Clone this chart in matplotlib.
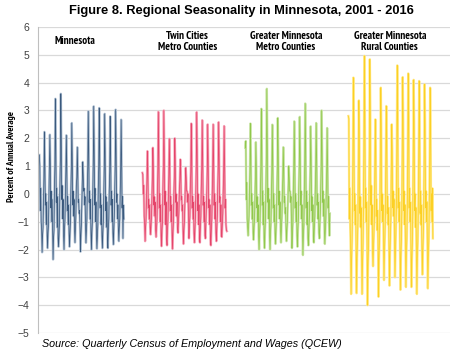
import numpy as np
import matplotlib
matplotlib.use("Agg")
import matplotlib.pyplot as plt
from matplotlib import font_manager as fm

# monthly values, Jul 2001 - Dec 2016 (percent of annual average)
minnesota = [
    1.4, 1.0, -0.6, 0.2, -1.0, -1.3,
    -2.1, -1.5, -1.2, -0.3, 0.6, 2.23, 1.2, -0.4, 0.0, -1.1, -0.3, -1.5,
    -1.95, -1.4, -1.1, -0.1, 0.7, 2.13, 1.1, -0.5, 0.1, -1.0, -0.2, -1.4,
    -2.36, -1.6, -1.3, 0.2, 1.0, 3.42, 1.8, -0.3, 0.2, -1.2, -0.1, -1.6,
    -1.9, -1.5, -1.0, 0.3, 1.2, 3.6, 2.0, -0.2, 0.3, -0.9, -0.2, -1.5,
    -2.0, -1.3, -0.9, 0.0, 0.8, 2.11, 1.1, -0.6, -0.1, -1.1, -0.4, -1.4,
    -1.9, -1.4, -1.0, 0.1, 0.9, 2.55, 1.4, -0.4, 0.1, -0.8, -0.2, -1.3,
    -1.75, -1.2, -0.7, 0.3, 0.6, 1.68, 0.9, -0.3, -0.2, -0.7, -0.6, -1.2,
    -2.08, -1.5, -1.1, -0.3, 0.4, 1.15, 0.7, 0.1, 0.2, -0.4, -0.1, -1.1,
    -1.76, -1.3, -0.9, 0.2, 1.0, 2.97, 1.6, -0.3, 0.1, -0.9, -0.2, -1.4,
    -2.0, -1.4, -1.0, 0.1, 1.1, 3.15, 1.7, -0.4, 0.2, -1.0, -0.3, -1.5,
    -1.97, -1.5, -1.1, 0.2, 1.0, 3.09, 1.7, -0.5, 0.0, -1.1, -0.4, -1.5,
    -1.95, -1.4, -1.0, 0.0, 0.9, 2.88, 1.5, -0.6, -0.1, -1.2, -0.3, -1.6,
    -1.95, -1.3, -0.9, 0.1, 0.8, 2.79, 1.5, -0.4, 0.1, -1.0, -0.2, -1.4,
    -1.82, -1.3, -0.8, 0.2, 1.0, 3.03, 1.6, -0.3, 0.0, -0.9, -0.4, -1.3,
    -1.7, -1.2, -0.9, 0.1, 0.9, 2.67, 1.4, -0.5, -0.1, -1.6, -0.4, -0.9,
]
twin_cities = [
    0.76, 0.7, 0.0, 0.3, -0.8, -1.1,
    -1.7, -1.2, -0.9, -0.2, 0.5, 1.54, 0.9, -0.5, -0.2, -0.9, -0.4, -1.2,
    -1.46, -1.1, -0.8, -0.1, 0.6, 1.66, 1.0, -0.4, -0.1, -0.8, -0.3, -1.3,
    -1.55, -1.2, -0.9, 0.1, 0.9, 2.95, 1.5, -0.5, 0.0, -1.0, -0.4, -1.5,
    -1.88, -1.3, -1.0, 0.2, 1.0, 3.0, 1.6, -0.4, 0.1, -1.1, -0.3, -1.6,
    -1.85, -1.3, -0.9, -0.1, 0.7, 1.98, 1.1, -0.6, -0.1, -1.0, -0.4, -1.4,
    -1.98, -1.4, -1.0, 0.0, 0.6, 2.0, 1.2, -0.3, 0.0, -0.8, -0.3, -1.2,
    -1.4, -1.0, -0.6, 0.1, 0.5, 1.24, 0.8, -0.2, -0.1, -0.6, -0.4, -1.3,
    -1.8, -1.3, -1.0, -0.4, 0.3, 0.94, 0.6, 0.1, 0.1, -0.3, 0.0, -0.9,
    -1.6, -1.1, -0.8, 0.2, 0.8, 2.53, 1.4, -0.5, -0.1, -0.9, -0.3, -1.4,
    -1.75, -1.3, -0.9, 0.1, 1.0, 2.94, 1.6, -0.6, 0.0, -1.1, -0.4, -1.6,
    -1.75, -1.2, -0.8, 0.2, 0.9, 2.65, 1.4, -0.4, -0.1, -1.0, -0.3, -1.5,
    -1.6, -1.1, -0.7, 0.0, 0.8, 2.5, 1.3, -0.5, -0.2, -1.1, -0.4, -1.6,
    -1.85, -1.3, -0.9, 0.1, 0.9, 2.5, 1.3, -0.4, 0.0, -0.9, -0.3, -1.4,
    -1.7, -1.2, -0.8, 0.2, 0.9, 2.58, 1.4, -0.3, -0.1, -1.0, -0.4, -1.5,
    -1.55, -1.1, -0.7, 0.1, 0.8, 2.44, 1.2, -0.5, -0.2, -1.1, -1.3, -1.34,
]
greater_metro = [
    1.66, 1.9, -0.2, 0.4, -0.9, -1.2,
    -1.5, -1.1, -0.8, 0.0, 0.8, 2.53, 1.4, -0.4, 0.0, -0.9, -0.3, -1.4,
    -1.65, -1.2, -0.9, -0.1, 0.6, 1.86, 1.0, -0.5, -0.1, -1.0, -0.4, -1.5,
    -2.0, -1.4, -1.0, 0.1, 1.0, 3.06, 1.7, -0.4, 0.1, -1.1, -0.3, -1.6,
    -1.95, -1.3, -0.9, 0.3, 1.3, 3.78, 2.0, -0.3, 0.2, -0.9, -0.2, -1.5,
    -2.0, -1.4, -1.0, 0.0, 0.8, 2.49, 1.3, -0.5, 0.0, -1.0, -0.4, -1.4,
    -1.8, -1.3, -0.9, 0.1, 0.9, 2.73, 1.5, -0.4, 0.1, -0.9, -0.3, -1.3,
    -1.75, -1.2, -0.8, 0.0, 0.6, 1.68, 0.9, -0.3, -0.1, -0.7, -0.5, -1.2,
    -1.7, -1.3, -1.0, -0.4, 0.3, 1.0, 0.6, 0.1, 0.1, -0.3, -0.1, -1.0,
    -1.95, -1.4, -1.0, 0.1, 0.9, 2.61, 1.4, -0.5, 0.0, -1.0, -0.3, -1.5,
    -1.9, -1.3, -0.9, 0.2, 1.0, 2.77, 1.5, -0.4, 0.1, -0.9, -0.4, -1.4,
    -2.2, -1.5, -1.1, 0.1, 1.1, 3.25, 1.8, -0.5, 0.1, -1.1, -0.3, -1.6,
    -1.85, -1.3, -0.9, 0.0, 0.8, 2.43, 1.3, -0.6, -0.1, -1.0, -0.4, -1.5,
    -1.75, -1.2, -0.8, 0.1, 0.9, 2.55, 1.4, -0.4, 0.0, -0.9, -0.3, -1.4,
    -1.6, -1.1, -0.7, 0.2, 1.0, 3.0, 1.6, -0.3, 0.1, -0.8, -0.2, -1.3,
    -1.8, -1.3, -0.9, 0.0, 0.8, 2.37, 1.2, -0.5, -0.1, -1.0, -1.5, -0.7,
]
rural = [
    2.8, 2.7, -0.9, 0.2, -1.2, -2.0,
    -3.6, -2.4, -1.7, -0.7, 1.3, 4.18, 2.7, -0.6, 0.0, -1.1, -0.4, -1.9,
    -3.57, -2.3, -1.6, -0.9, 1.0, 3.36, 2.2, -0.7, -0.1, -1.2, -0.5, -2.0,
    -3.6, -2.5, -1.8, -0.6, 1.6, 4.96, 3.2, -0.5, 0.2, -1.0, -0.3, -1.8,
    -4.0, -2.6, -1.9, -0.5, 1.5, 4.84, 3.1, -0.4, 0.3, -1.1, -0.4, -2.1,
    -2.6, -1.9, -1.4, -0.8, 0.9, 2.68, 1.7, -0.8, -0.2, -1.3, -0.6, -1.7,
    -3.7, -2.4, -1.7, -0.7, 1.2, 3.82, 2.5, -0.6, 0.0, -1.0, -0.4, -1.9,
    -3.1, -2.1, -1.5, -0.8, 1.0, 3.16, 2.0, -0.7, -0.1, -1.1, -0.5, -1.8,
    -3.3, -2.2, -1.6, -0.9, 0.8, 2.5, 1.6, -0.5, 0.1, -0.8, -0.2, -1.6,
    -3.0, -2.2, -1.5, -0.5, 1.5, 4.62, 3.0, -0.5, 0.2, -1.0, -0.3, -1.9,
    -3.45, -2.3, -1.7, -0.6, 1.3, 4.2, 2.7, -0.6, 0.1, -1.1, -0.4, -2.0,
    -3.35, -2.2, -1.6, -0.5, 1.4, 4.33, 2.8, -0.5, 0.2, -1.0, -0.3, -1.8,
    -3.35, -2.4, -1.8, -0.7, 1.2, 4.1, 2.6, -0.6, 0.0, -1.2, -0.5, -2.0,
    -3.6, -2.3, -1.7, -0.6, 1.3, 4.06, 2.6, -0.7, 0.1, -1.1, -0.4, -1.9,
    -2.9, -2.1, -1.5, -0.5, 1.2, 3.94, 2.5, -0.5, 0.1, -1.0, -0.3, -1.8,
    -3.4, -2.3, -1.7, -0.6, 1.2, 3.82, 2.4, -0.6, 0.0, -1.0, 0.2, -1.6,
]

regions = ["Minnesota", "Twin Cities\nMetro Counties",
           "Greater Minnesota\nMetro Counties", "Greater Minnesota\nRural Counties"]
series = [minnesota, twin_cities, greater_metro, rural]
light = ["#b7c6d6", "#f6a9bb", "#cde6ad", "#ffe98c"]
dark = ["#24466e", "#e2325c", "#86c33a", "#fccc12"]


def pick_narrow():
    # first condensed family that has a bold face
    have = {}
    for f in fm.fontManager.ttflist:
        have.setdefault(f.name, set()).add(f.weight)
    for name in ["Arial Narrow", "Liberation Sans Narrow", "Archivo Narrow",
                 "PT Sans Narrow", "Roboto Condensed", "Open Sans Condensed",
                 "Arimo"]:
        w = have.get(name, set())
        if any(x in (700, "bold") for x in w):
            return name
    return "Liberation Sans"


narrow = [pick_narrow(), "DejaVu Sans"]

block = 225.5   # months per region block incl. gap
offset = 3

fig = plt.figure(figsize=(4.52, 3.56), dpi=100)
ax = fig.add_axes([38/452, 1 - 333/356, 412/452, 306/356])

for k, vals in enumerate(series):
    x = k * block + offset + np.arange(len(vals))
    ax.plot(x, vals, color=light[k], lw=1.7)
    ax.plot(x, vals, color=dark[k], lw=0.55, alpha=0.85)

ax.set_xlim(0, 4 * block)
ax.set_ylim(-5, 6)
ax.set_yticks(range(-5, 7))
ax.set_xticks([])
ax.yaxis.grid(True, color="#d9d9d9", lw=0.9)
ax.set_axisbelow(True)
for s in ["top", "right", "bottom"]:
    ax.spines[s].set_visible(False)
ax.spines["left"].set_color("#bfbfbf")
ax.tick_params(axis="y", length=0, pad=6, labelsize=7.5, colors="#404040")
for lab in ax.get_yticklabels():
    lab.set_fontfamily("Liberation Sans")

label_x = [0.09, 0.362, 0.602, 0.854]
for name, lx in zip(regions, label_x):
    ax.text(lx, 0.953, name, transform=ax.transAxes, ha="center", va="center",
            fontsize=7.9, fontweight="bold", family=narrow, linespacing=1.15)

fig.text(241/452, 1 - 11/356, "Figure 8. Regional Seasonality in Minnesota, 2001 - 2016",
         ha="center", va="center", fontsize=9.3, fontweight="bold", family="Liberation Sans")
fig.text(12/452, 1 - 157/356, "Percent of Annual Average", rotation=90,
         ha="center", va="center", fontsize=7, fontweight="bold", family=narrow)
fig.text(42/452, 1 - 344/356, "Source: Quarterly Census of Employment and Wages (QCEW)",
         ha="left", va="center", fontsize=7.75, style="italic", family="Liberation Sans")

fig.savefig("out.png", dpi=100)
